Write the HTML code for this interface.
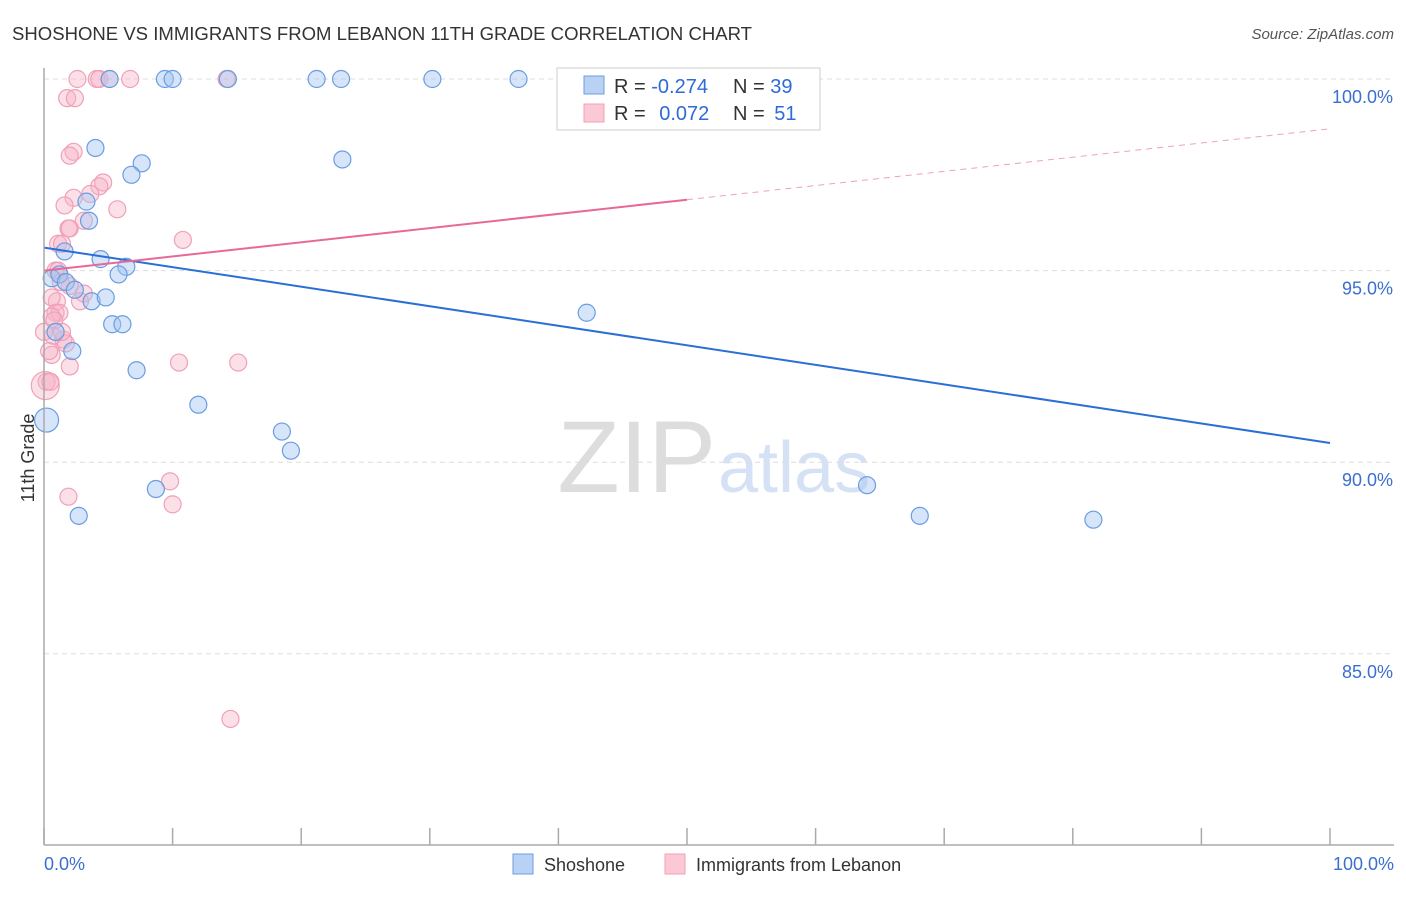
<!DOCTYPE html>
<html><head><meta charset="utf-8"><style>
body{margin:0;background:#fff;font-family:"Liberation Sans",sans-serif;}
svg text{font-family:"Liberation Sans",sans-serif;}
</style></head><body>
<svg id="chart" width="1406" height="892">
<text x="12" y="40" font-size="18" fill="#333" textLength="740" lengthAdjust="spacingAndGlyphs">SHOSHONE VS IMMIGRANTS FROM LEBANON 11TH GRADE CORRELATION CHART</text>
<text x="1394" y="39" font-size="15" fill="#555" font-style="italic" text-anchor="end">Source: ZipAtlas.com</text>
<text x="34" y="458" font-size="18" fill="#333" transform="rotate(-90 34 458)" text-anchor="middle">11th Grade</text>
<text x="716" y="492" font-size="102" fill="#ddd" text-anchor="end" font-family="Liberation Serif">ZIP</text>
<text x="718" y="492" font-size="72" fill="#d5e2f5">atlas</text>
<g id="grid"></g><g id="pts"></g><g id="lines"></g>
<line x1="44" y1="68" x2="44" y2="845" stroke="#aaa" stroke-width="1.5"/>
<line x1="44" y1="845" x2="1394" y2="845" stroke="#aaa" stroke-width="1.5"/>
<text x="44" y="870" font-size="18" fill="#3a6fd0">0.0%</text>
<text x="1394" y="870" font-size="18" fill="#3a6fd0" text-anchor="end">100.0%</text>
<g>
<rect x="557" y="68" width="263" height="62" fill="#fff" stroke="#ccc"/>
<rect x="584" y="76" width="20" height="18" fill="#b9d1f3" stroke="#6a9de0"/>
<rect x="584" y="104" width="20" height="18" fill="#fbc9d6" stroke="#f0a0b8"/>
<text x="614" y="93" font-size="20" fill="#333">R = <tspan fill="#2d6bd6">-0.274</tspan></text>
<text x="733" y="93" font-size="20" fill="#333">N = <tspan fill="#2d6bd6">39</tspan></text>
<text x="614" y="120" font-size="20" fill="#333">R = <tspan fill="#2d6bd6" dx="8">0.072</tspan></text>
<text x="733" y="120" font-size="20" fill="#333">N = <tspan fill="#2d6bd6" dx="4">51</tspan></text>
</g>
<g><rect x="513" y="854" width="20" height="20" fill="#b9d1f3" stroke="#6a9de0"/><text x="544" y="871" font-size="18" fill="#333">Shoshone</text></g>
<g><rect x="665" y="854" width="20" height="20" fill="#fbc9d6" stroke="#f0a0b8"/><text x="696" y="871" font-size="18" fill="#333">Immigrants from Lebanon</text></g>
</svg>
<script>
const yTicks=[100,95,90,85];
const xTickVals=[0,10,20,30,40,50,60,70,80,90,100];
const blueX=[5.1,9.4,10.0,14.3,21.2,23.1,30.2,36.9,4.0,7.6,6.8,23.2,3.3,3.5,1.6,4.4,6.4,5.8,0.6,1.2,1.7,2.4,3.7,4.8,5.3,6.1,2.2,7.2,12.0,18.5,19.2,8.7,2.7,42.2,64.0,68.1,81.6,0.2,0.9];
const blueY=[100,100,100,100,100,100,100,100,98.2,97.8,97.5,97.9,96.8,96.3,95.5,95.3,95.1,94.9,94.8,94.9,94.7,94.5,94.2,94.3,93.6,93.6,92.9,92.4,91.5,90.8,90.3,89.3,88.6,93.9,89.4,88.6,88.5,91.1,93.4];
const pinkX=[2.6,4.1,4.3,6.7,14.2,5.1,1.8,2.4,2.3,2.0,4.6,4.3,2.3,1.6,5.7,3.6,1.9,2.0,10.8,1.1,1.4,0.9,1.1,2.0,3.1,1.0,0.9,1.2,0.6,0.8,1.5,1.7,0.6,2.0,0.2,0.1,10.5,15.1,1.9,9.8,10.0,14.5,3.1,1.3,0.6,2.8,0.7,0.4,1.4,0.0,0.5];
const pinkY=[100,100,100,100,100,100,99.5,99.5,98.1,98.0,97.3,97.2,96.9,96.7,96.6,97.0,96.1,96.1,95.8,95.7,95.7,95.0,95.0,94.6,94.4,94.2,93.9,93.9,93.8,93.7,93.2,93.1,92.8,92.5,92.1,92.0,92.6,92.6,89.1,89.5,88.9,83.3,96.3,94.7,94.3,94.2,93.3,92.9,93.4,93.4,92.1];
const blueTrend=[95.6,90.5];
const pinkTrend=[95.0,98.7];
const NS='http://www.w3.org/2000/svg';
const X0=44,X1=1330,YTOP=79,PER=38.32;
const sx=v=>X0+(X1-X0)*v/100;
const sy=v=>YTOP+(100-v)*PER;
function mk(t,a,p){const e=document.createElementNS(NS,t);for(const k in a)e.setAttribute(k,a[k]);p.appendChild(e);return e;}
const grid=document.getElementById('grid');
yTicks.forEach(v=>{
 const l=mk('line',{x1:44,x2:1394,y1:sy(v),y2:sy(v),stroke:'#ddd','stroke-dasharray':'5,4'},grid);
 
 
 const t=mk('text',{x:1393,y:sy(v)+24,'font-size':18,fill:'#3a6fd0','text-anchor':'end'},grid);
 t.textContent=v.toFixed(1)+'%';
 
 
});
xTickVals.forEach(v=>{
 const l=mk('line',{x1:sx(v),x2:sx(v),y1:828,y2:845,stroke:'#aaa','stroke-width':1.5},grid);
 
 
});
const pts=document.getElementById('pts');
pinkX.forEach((x,i)=>{
 const r=(i===35)?14:8.5;
 const c=mk('circle',{cx:sx(x),cy:sy(pinkY[i]),r:r,fill:'rgba(248,178,198,0.4)',stroke:'#f0a0b8','stroke-width':1.2},pts);
 
 
});
blueX.forEach((x,i)=>{
 const r=(i===37)?12:8.5;
 const c=mk('circle',{cx:sx(x),cy:sy(blueY[i]),r:r,fill:'rgba(165,198,242,0.45)',stroke:'#6a9de0','stroke-width':1.2},pts);
 
 
});
const lines=document.getElementById('lines');
const bl=mk('line',{x1:sx(0),y1:sy(blueTrend[0]),x2:sx(100),y2:sy(blueTrend[1]),stroke:'#2a6fd6','stroke-width':2},lines);


const pm=pinkTrend[0]+(pinkTrend[1]-pinkTrend[0])*0.5;
const pl=mk('line',{x1:sx(0),y1:sy(pinkTrend[0]),x2:sx(50),y2:sy(pm),stroke:'#e8689a','stroke-width':2},lines);


const pd=mk('line',{x1:sx(50),y1:sy(pm),x2:sx(100),y2:sy(pinkTrend[1]),stroke:'#eea0bc','stroke-width':1,'stroke-dasharray':'6,5'},lines);


</script>
</body></html>
